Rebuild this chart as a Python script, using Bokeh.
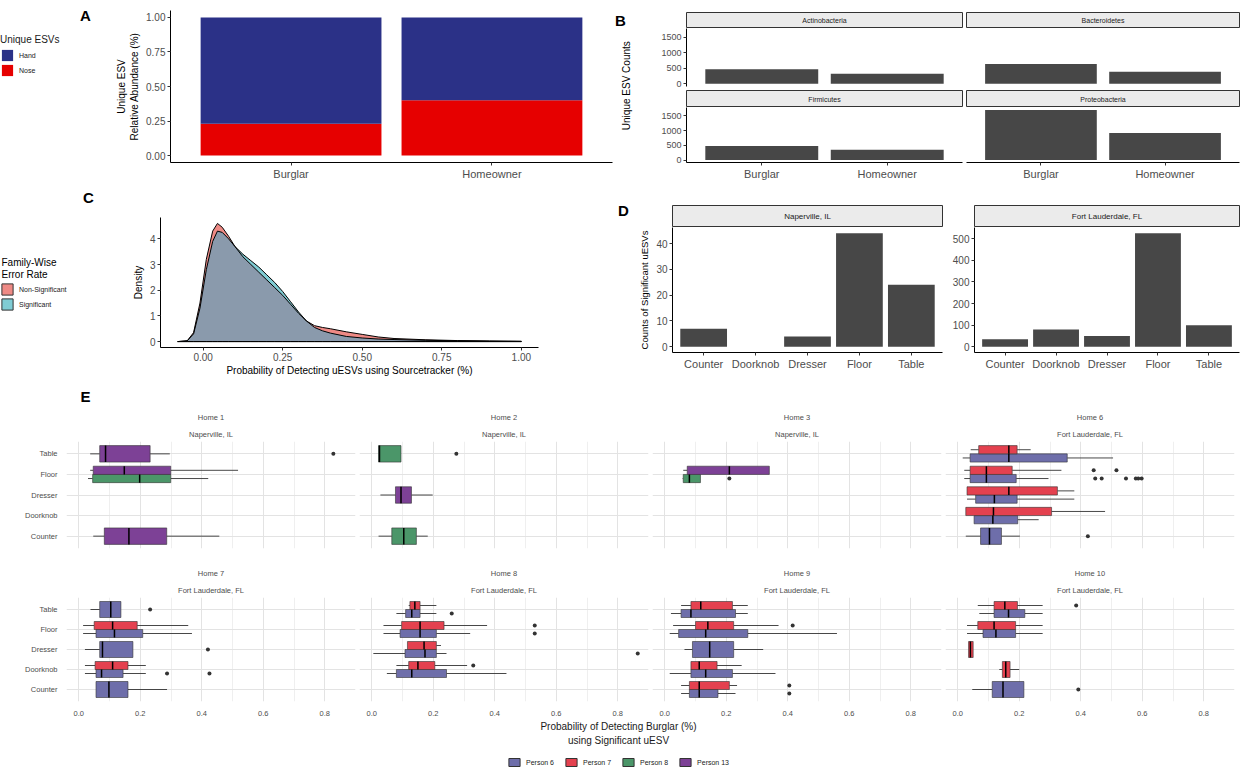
import numpy as np
from bokeh.plotting import figure
from bokeh.models import (Range1d, FixedTicker, Legend, LegendItem, Title,
                          NumeralTickFormatter)
from bokeh.layouts import row, column
from bokeh.embed import file_html
from bokeh.resources import INLINE
from bokeh.core.properties import value

FONT = "Liberation Sans"
TXT = "#4D4D4D"

# ---------------- data ----------------
# Panel A
a_groups = ["Burglar", "Homeowner"]
a_types = ["Hand", "Nose"]
a_nose = [0.23, 0.40]
a_hand = [0.77, 0.60]
a_colors = ["#2B3187", "#E60000"]
a_yticks = [0, 0.25, 0.5, 0.75, 1.0]

# Panel B
b_phyla = ["Actinobacteria", "Bacteroidetes", "Firmicutes", "Proteobacteria"]
b_groups = ["Burglar", "Homeowner"]
b_burglar = [470, 640, 480, 1700]
b_homeowner = [330, 390, 350, 920]
b_yticks = [0, 500, 1000, 1500]

# Panel C (density curves)
c_x = [-0.08, -0.05, -0.03, -0.01, 0.01, 0.03, 0.045, 0.06, 0.08, 0.10, 0.125, 0.15,
       0.175, 0.20, 0.225, 0.25, 0.275, 0.30, 0.325, 0.35, 0.375, 0.40, 0.45, 0.50,
       0.55, 0.60, 0.70, 0.80, 0.90, 1.00]
c_sig = [0.0, 0.03, 0.3, 1.3, 2.8, 3.9, 4.3, 4.25, 4.0, 3.7, 3.4, 3.15, 2.9, 2.6, 2.3,
         1.95, 1.55, 1.15, 0.8, 0.55, 0.42, 0.33, 0.2, 0.14, 0.1, 0.08, 0.05, 0.03, 0.02, 0.01]
c_nonsig = [0.0, 0.03, 0.35, 1.5, 3.2, 4.3, 4.6, 4.45, 4.1, 3.7, 3.3, 3.0, 2.7, 2.4, 2.1,
            1.8, 1.45, 1.1, 0.8, 0.62, 0.55, 0.5, 0.38, 0.28, 0.18, 0.12, 0.07, 0.04, 0.02, 0.01]
c_labels = ["Non-Significant", "Significant"]
c_legend_title = ["Family-Wise", "Error Rate"]
c_colors = ["#EE8A85", "#80CCD4"]
c_xticks = [0, 0.25, 0.5, 0.75, 1.0]
c_yticks = [0, 1, 2, 3, 4]

# Panel D
d_surfaces = ["Counter", "Doorknob", "Dresser", "Floor", "Table"]
d_cities = ["Naperville, IL", "Fort Lauderdale, FL"]
d_naperville = [7, 0, 4, 44, 24]
d_fortl = [35, 80, 50, 525, 100]
d_ticks_nap = [0, 10, 20, 30, 40]
d_ticks_fl = [0, 100, 200, 300, 400, 500]

# Panel E (box-plot summaries)
e_homes = ["Home 1", "Home 2", "Home 3", "Home 6", "Home 7", "Home 8", "Home 9", "Home 10"]
e_cities = ["Naperville, IL", "Naperville, IL", "Naperville, IL", "Fort Lauderdale, FL",
            "Fort Lauderdale, FL", "Fort Lauderdale, FL", "Fort Lauderdale, FL", "Fort Lauderdale, FL"]
e_people = ["Person 6", "Person 7", "Person 8", "Person 13"]
e_colors = ["#6E6EAA", "#E4414F", "#4B9669", "#7D4196"]
e_xticks = [0, 0.2, 0.4, 0.6, 0.8]
e_xminor = [0.1, 0.3, 0.5, 0.7]

e_home = ["Home 1"] * 4 + ["Home 2"] * 3 + ["Home 3"] * 2 + ["Home 6"] * 9 + ["Home 7"] * 7 \
    + ["Home 8"] * 8 + ["Home 9"] * 9 + ["Home 10"] * 7
e_surface = ["Table", "Floor", "Floor", "Counter",
             "Table", "Dresser", "Counter",
             "Floor", "Floor",
             "Table", "Table", "Floor", "Floor", "Dresser", "Dresser", "Doorknob", "Doorknob", "Counter",
             "Table", "Floor", "Floor", "Dresser", "Doorknob", "Doorknob", "Counter",
             "Table", "Table", "Floor", "Floor", "Dresser", "Dresser", "Doorknob", "Doorknob",
             "Table", "Table", "Floor", "Floor", "Dresser", "Doorknob", "Doorknob", "Counter", "Counter",
             "Table", "Table", "Floor", "Floor", "Dresser", "Doorknob", "Counter"]
e_person = ["Person 13", "Person 8", "Person 13", "Person 13",
            "Person 8", "Person 13", "Person 8",
            "Person 8", "Person 13",
            "Person 6", "Person 7", "Person 6", "Person 7", "Person 6", "Person 7", "Person 6", "Person 7", "Person 6",
            "Person 6", "Person 6", "Person 7", "Person 6", "Person 6", "Person 7", "Person 6",
            "Person 6", "Person 7", "Person 6", "Person 7", "Person 6", "Person 7", "Person 6", "Person 7",
            "Person 6", "Person 7", "Person 6", "Person 7", "Person 6", "Person 6", "Person 7", "Person 6", "Person 7",
            "Person 6", "Person 7", "Person 6", "Person 7", "Person 7", "Person 7", "Person 6"]
e_lower = [0.037, 0.030, 0.037, 0.047,
           0.022, 0.028, 0.022,
           0.058, 0.060,
           0.016, 0.042, 0.021, 0.021, 0.030, 0.030, 0.053, 0.026, 0.026,
           0.038, 0.014, 0.014, 0.020, 0.020, 0.020, 0.056,
           0.080, 0.120, 0.038, 0.038, 0.005, 0.116, 0.049, 0.080,
           0.020, 0.053, 0.016, 0.027, 0.064, 0.016, 0.085, 0.053, 0.053,
           0.070, 0.065, 0.030, 0.030, 0.035, 0.135, 0.047]
e_q1 = [0.068, 0.045, 0.047, 0.083,
        0.022, 0.077, 0.065,
        0.060, 0.073,
        0.040, 0.068, 0.040, 0.040, 0.058, 0.030, 0.053, 0.026, 0.074,
        0.068, 0.056, 0.050, 0.068, 0.056, 0.053, 0.056,
        0.110, 0.124, 0.092, 0.097, 0.108, 0.116, 0.080, 0.120,
        0.053, 0.085, 0.045, 0.100, 0.090, 0.085, 0.085, 0.080, 0.080,
        0.118, 0.118, 0.082, 0.065, 0.035, 0.145, 0.112]
e_median = [0.087, 0.198, 0.148, 0.163,
            0.025, 0.095, 0.104,
            0.080, 0.210,
            0.166, 0.166, 0.093, 0.093, 0.119, 0.166, 0.114, 0.116, 0.103,
            0.104, 0.116, 0.110, 0.077, 0.074, 0.110, 0.098,
            0.130, 0.140, 0.157, 0.157, 0.173, 0.170, 0.130, 0.150,
            0.085, 0.117, 0.133, 0.140, 0.146, 0.133, 0.112, 0.112, 0.112,
            0.165, 0.153, 0.124, 0.118, 0.041, 0.156, 0.147]
e_q3 = [0.232, 0.299, 0.299, 0.286,
        0.095, 0.129, 0.145,
        0.116, 0.340,
        0.356, 0.193, 0.190, 0.177, 0.193, 0.324, 0.195, 0.305, 0.142,
        0.137, 0.208, 0.190, 0.176, 0.144, 0.160, 0.160,
        0.157, 0.157, 0.210, 0.235, 0.210, 0.210, 0.243, 0.205,
        0.230, 0.220, 0.270, 0.224, 0.224, 0.220, 0.170, 0.173, 0.210,
        0.218, 0.194, 0.188, 0.188, 0.050, 0.170, 0.215]
e_upper = [0.296, 0.421, 0.518, 0.457,
           0.095, 0.198, 0.182,
           0.116, 0.340,
           0.505, 0.237, 0.295, 0.337, 0.379, 0.379, 0.263, 0.479, 0.202,
           0.137, 0.368, 0.356, 0.176, 0.218, 0.218, 0.287,
           0.210, 0.210, 0.320, 0.375, 0.243, 0.225, 0.438, 0.310,
           0.270, 0.270, 0.560, 0.370, 0.320, 0.360, 0.250, 0.230, 0.235,
           0.276, 0.276, 0.276, 0.276, 0.050, 0.200, 0.215]
e_outliers = [[0.828], [], [], [],
              [0.275], [], [],
              [0.21], [],
              [], [], [0.447, 0.468, 0.547, 0.579, 0.587, 0.598], [0.442, 0.516], [], [], [], [], [0.423],
              [0.232], [], [], [0.42], [0.287, 0.425], [], [],
              [0.26], [], [0.53], [0.53], [0.865], [], [], [0.33],
              [], [], [], [0.416], [], [], [], [0.405], [0.405],
              [], [0.385], [], [], [], [], [0.392]]


# ---------------- helpers ----------------
def mkfig(w, h, l, r, t, b, xr, yr, xaxis=True, yaxis=True):
    p = figure(width=w, height=h, x_range=xr, y_range=yr, output_backend="svg",
               toolbar_location=None, min_border_left=l, min_border_right=r,
               min_border_top=t, min_border_bottom=b,
               x_axis_location="below" if xaxis else None,
               y_axis_location="left" if yaxis else None)
    p.outline_line_color = None
    p.border_fill_color = "white"
    p.background_fill_color = "white"
    p.xgrid.visible = False
    p.ygrid.visible = False
    return p


def text_fig(w, h):
    return mkfig(w, h, 0, 0, 0, 0, Range1d(0, w), Range1d(0, h), xaxis=False, yaxis=False)


def add_text(p, txt, x, y, size="10px", bold=False, align="center", angle=0.0, color="black"):
    p.text(x=[x], y=[y], text=[txt], angle=[angle], text_align=align, text_baseline="middle",
           text_font=value(FONT), text_font_size=size,
           text_font_style="bold" if bold else "normal", text_color=color)


def proxy(p, color, line=None):
    nan = np.array([np.nan])
    return p.quad(left=nan, right=nan, top=nan, bottom=nan, fill_color=color, line_color=line)


def style_axis(ax, fs="10px", lfs="10px"):
    ax.axis_line_color = "black"
    ax.axis_line_width = 1
    ax.major_tick_line_color = "#333333"
    ax.major_tick_out = 3
    ax.major_tick_in = 0
    ax.minor_tick_line_color = None
    ax.major_label_text_font = FONT
    ax.major_label_text_font_size = fs
    ax.major_label_text_color = TXT
    ax.major_label_standoff = 2
    ax.axis_label_text_font = FONT
    ax.axis_label_text_font_size = lfs
    ax.axis_label_text_font_style = "normal"
    ax.axis_label_text_color = "black"
    ax.axis_label_standoff = 3


def strip(name, w, h, l, r, t, b, fs):
    p = mkfig(w, h, l, r, t, b, Range1d(0, 1), Range1d(0, 1), xaxis=False, yaxis=False)
    p.background_fill_color = "#EBEBEB"
    p.outline_line_color = "#333333"
    p.text(x=[0.5], y=[0.5], text=[name], text_align="center", text_baseline="middle",
           text_font=value(FONT), text_font_size=fs, text_color="#1A1A1A")
    return p


def style_legend(lg, title_fs="10px", label_fs="7px"):
    lg.title_text_font = FONT
    lg.title_text_font_size = title_fs
    lg.title_text_font_style = "normal"
    lg.title_text_color = "#1A1A1A"
    lg.label_text_font = FONT
    lg.label_text_font_size = label_fs
    lg.label_text_color = "#1A1A1A"
    lg.glyph_width = 14
    lg.glyph_height = 14
    lg.label_height = 14
    lg.spacing = 1
    lg.padding = 0
    lg.margin = 0
    lg.border_line_color = None
    lg.background_fill_alpha = 0
    lg.label_standoff = 5
    lg.title_standoff = 3


def pad_range(vals, lo=0.0):
    m = max(vals)
    span = m - lo
    return Range1d(lo - 0.05 * span, m + 0.05 * span)


# ---------------- Panel A ----------------
letA = text_fig(100, 34)
add_text(letA, "A", 85, 19, size="15px", bold=True)
legA_fig = text_fig(100, 154)
pA_proxies = [proxy(legA_fig, a_colors[0]), proxy(legA_fig, a_colors[1])]
legA = Legend(items=[LegendItem(label=t, renderers=[r]) for t, r in zip(a_types, pA_proxies)],
              location="top_left", title="Unique ESVs")
style_legend(legA)
legA_fig.add_layout(legA)

a_x = [i + 1 for i in range(len(a_groups))]
a_top = [n + h for n, h in zip(a_nose, a_hand)]
pA = mkfig(514, 188, 70, 2, 10, 26, Range1d(0.4, len(a_groups) + 0.6), pad_range(a_top))
pA.vbar(x=a_x, top=a_nose, bottom=0, width=0.9, fill_color=a_colors[1], line_color=None)
pA.vbar(x=a_x, top=a_top, bottom=a_nose, width=0.9, fill_color=a_colors[0], line_color=None)
style_axis(pA.xaxis, fs="11px")
style_axis(pA.yaxis, fs="10px", lfs="10px")
pA.xaxis.ticker = FixedTicker(ticks=a_x)
pA.xaxis.major_label_overrides = {i + 1: g for i, g in enumerate(a_groups)}
pA.yaxis.ticker = FixedTicker(ticks=a_yticks)
pA.yaxis.formatter = NumeralTickFormatter(format="0.00")
pA.yaxis.axis_label = "Unique ESV\nRelative Abundance (%)"

# ---------------- Panel B ----------------
ylabB = text_fig(20, 188)
add_text(ylabB, "Unique ESV Counts", 12, 95, angle=np.pi / 2)
add_text(ylabB, "B", 6, 176, size="15px", bold=True)

b_all = b_burglar + b_homeowner
b_cols = [[], []]
for i, ph in enumerate(b_phyla):
    rr, cc = divmod(i, 2)
    left = cc == 0
    bottom = rr == 1
    w = 330 if left else 277
    l = 52 if left else 2
    s = strip(ph, w, 28 if rr == 0 else 17, l, 2, 12 if rr == 0 else 0, 0, "7px")
    p = mkfig(w, 81 if bottom else 62, l, 2, 0, 26 if bottom else 4,
              Range1d(0.4, len(b_groups) + 0.6), pad_range(b_all), xaxis=bottom, yaxis=left)
    bx = [k + 1 for k in range(len(b_groups))]
    p.vbar(x=bx, top=[b_burglar[i], b_homeowner[i]], width=0.9, fill_color="#474747", line_color=None)
    if bottom:
        style_axis(p.xaxis, fs="11px")
        p.xaxis.ticker = FixedTicker(ticks=bx)
        p.xaxis.major_label_overrides = {k + 1: g for k, g in enumerate(b_groups)}
    if left:
        style_axis(p.yaxis, fs="9px")
        p.yaxis.ticker = FixedTicker(ticks=b_yticks)
    b_cols[cc] += [s, p]

# ---------------- Panel C ----------------
letC = text_fig(100, 94)
add_text(letC, "C", 88, 85, size="15px", bold=True)
add_text(letC, c_legend_title[0], 1, 20, align="left")
add_text(letC, c_legend_title[1], 1, 8, align="left")
legC_fig = text_fig(100, 96)
pC_proxies = [proxy(legC_fig, c, "#333333") for c in c_colors]
legC = Legend(items=[LegendItem(label=t, renderers=[r]) for t, r in zip(c_labels, pC_proxies)],
              location="top_left")
style_legend(legC)
legC_fig.add_layout(legC)

pC = mkfig(516, 190, 60, 78, 29, 28, pad_range(c_x + [-0.08], lo=-0.08), pad_range(c_nonsig + c_sig))
poly_x = c_x + c_x[::-1]
zeros = [0.0] * len(c_x)
pC.patch(poly_x, c_nonsig + zeros, fill_color=c_colors[0], line_color=None)
pC.patch(poly_x, c_sig + zeros, fill_color=c_colors[1], line_color=None)
pC.varea(x=c_x, y1=zeros, y2=list(np.minimum(c_sig, c_nonsig)), fill_color="#8A9AAC")
pC.patch(poly_x, c_nonsig + zeros, fill_alpha=0, line_color="black", line_width=1)
pC.patch(poly_x, c_sig + zeros, fill_alpha=0, line_color="black", line_width=1)
style_axis(pC.xaxis, fs="10px", lfs="10px")
style_axis(pC.yaxis, fs="10px", lfs="10px")
pC.xaxis.ticker = FixedTicker(ticks=c_xticks)
pC.xaxis.formatter = NumeralTickFormatter(format="0.00")
pC.yaxis.ticker = FixedTicker(ticks=c_yticks)
pC.xaxis.axis_label = "Probability of Detecting uESVs using Sourcetracker (%)"
pC.yaxis.axis_label = "Density"
pC.xaxis.axis_label_standoff = 1

# ---------------- Panel D ----------------
d_data = [d_naperville, d_fortl]
d_ticks = [d_ticks_nap, d_ticks_fl]
d_cols = []
for k, city in enumerate(d_cities):
    w = 330 if k == 0 else 295
    l = 56 if k == 0 else 28
    r = 4 if k == 0 else 2
    dx = [i + 1 for i in range(len(d_surfaces))]
    p = mkfig(w, 151, l, r, 0, 26, Range1d(0.4, len(d_surfaces) + 0.6), pad_range(d_data[k]))
    p.vbar(x=dx, top=d_data[k], width=0.9, fill_color="#474747", line_color=None)
    style_axis(p.xaxis, fs="11px")
    style_axis(p.yaxis, fs="10px", lfs="9.5px")
    p.xaxis.ticker = FixedTicker(ticks=dx)
    p.xaxis.major_label_overrides = {i + 1: g for i, g in enumerate(d_surfaces)}
    p.yaxis.ticker = FixedTicker(ticks=d_ticks[k])
    if k == 0:
        p.yaxis.axis_label = "Counts of Significant uESVs"
        letD = text_fig(l, 39)
        add_text(letD, "D", 7, 30, size="15px", bold=True)
        s = strip(city, w - l, 39, 0, r, 17, 0, "8px")
        d_cols.append(column(row(letD, s), p))
    else:
        s = strip(city, w, 39, l, r, 17, 0, "8px")
        d_cols.append(column(s, p))

# ---------------- Panel E ----------------
letE = text_fig(1236, 29)
add_text(letE, "E", 85, 11, size="15px", bold=True)

BW = 0.8
e_rows = [[], []]
for hi, home in enumerate(e_homes):
    rr, cc = divmod(hi, 4)
    w = 357 if cc == 0 else 293
    l = 66 if cc == 0 else 2
    h, t, b = (145, 30, 4) if rr == 0 else (166, 45, 14)
    p = figure(width=w, height=h, x_range=Range1d(-0.04, 0.90),
               y_range=Range1d(0.4, len(d_surfaces) + 0.6), output_backend="svg",
               toolbar_location=None, min_border_left=l, min_border_right=2,
               min_border_top=t, min_border_bottom=b)
    p.outline_line_color = None
    p.border_fill_color = "white"
    p.xaxis.ticker = FixedTicker(ticks=e_xticks, minor_ticks=e_xminor)
    p.xaxis.formatter = NumeralTickFormatter(format="0.0")
    p.yaxis.ticker = FixedTicker(ticks=[i + 1 for i in range(len(d_surfaces))])
    p.yaxis.major_label_overrides = {i + 1: s for i, s in enumerate(d_surfaces)}
    for ax in (p.xaxis, p.yaxis):
        ax.axis_line_color = None
        ax.major_tick_line_color = None
        ax.minor_tick_line_color = None
        ax.major_label_text_font = FONT
        ax.major_label_text_font_size = "7.5px"
        ax.major_label_text_color = TXT
        ax.major_label_standoff = 3
    p.xaxis.visible = rr == 1
    p.yaxis.visible = cc == 0
    p.xgrid.grid_line_color = "#E3E3E3"
    p.xgrid.minor_grid_line_color = "#EFEFEF"
    p.ygrid.grid_line_color = "#E3E3E3"
    for txt in (e_cities[hi], home):
        p.add_layout(Title(text=txt, align="center", text_font=FONT, text_font_size="7.5px",
                           text_color=TXT, text_font_style="normal", standoff=6), "above")

    idxs = [i for i in range(len(e_home)) if e_home[i] == home]
    ys, hs, cols, idx_order = [], [], [], []
    for i in idxs:
        same = sorted([j for j in idxs if e_surface[j] == e_surface[i]],
                      key=lambda j: e_people.index(e_person[j]))
        n = len(same)
        kk = same.index(i)
        sp = d_surfaces.index(e_surface[i]) + 1
        ys.append(sp + (kk - (n - 1) / 2) * BW / n)
        hs.append(BW / n)
        cols.append(e_colors[e_people.index(e_person[i])])
        idx_order.append(i)
    lw = [e_lower[i] for i in idx_order]
    q1 = [e_q1[i] for i in idx_order]
    md = [e_median[i] for i in idx_order]
    q3 = [e_q3[i] for i in idx_order]
    uw = [e_upper[i] for i in idx_order]
    p.segment(x0=lw, y0=ys, x1=q1, y1=ys, line_color="#333333", line_width=0.9)
    p.segment(x0=q3, y0=ys, x1=uw, y1=ys, line_color="#333333", line_width=0.9)
    p.hbar(y=ys, left=q1, right=q3, height=hs, fill_color=cols, line_color="#333333", line_width=0.6)
    p.segment(x0=md, y0=[y - hh / 2 for y, hh in zip(ys, hs)], x1=md,
              y1=[y + hh / 2 for y, hh in zip(ys, hs)], line_color="black", line_width=1.5)
    ox, oy = [], []
    for y, i in zip(ys, idx_order):
        for v in e_outliers[i]:
            ox.append(v)
            oy.append(y)
    if ox:
        p.scatter(x=ox, y=oy, size=4, fill_color="#333333", line_color=None)
    e_rows[rr].append(p)

pEb = figure(width=1236, height=52, x_range=Range1d(0, 1), y_range=Range1d(0, 1),
             output_backend="svg", toolbar_location=None, min_border_left=0,
             min_border_right=0, min_border_top=0, min_border_bottom=0,
             x_axis_location=None, y_axis_location=None)
pEb.outline_line_color = None
pEb.xgrid.visible = False
pEb.ygrid.visible = False
for txt in ("using Significant uESV", "Probability of Detecting Burglar (%)"):
    pEb.add_layout(Title(text=txt, align="center", offset=27, text_font=FONT, text_font_size="10px",
                         text_color="#1A1A1A", text_font_style="normal", standoff=1), "above")
e_proxies = [proxy(pEb, c, "#333333") for c in e_colors]
legE = Legend(items=[LegendItem(label=nm, renderers=[r]) for nm, r in zip(e_people, e_proxies)],
              orientation="horizontal", location="bottom_center")
style_legend(legE, label_fs="7px")
legE.glyph_height = 10
legE.label_height = 10
legE.spacing = 10
legE.margin = 3
pEb.add_layout(legE)

layout = column(
    row(column(letA, legA_fig), pA, ylabB, column(*b_cols[0]), column(*b_cols[1])),
    row(column(letC, legC_fig), pC, d_cols[0], d_cols[1]),
    letE,
    row(*e_rows[0]),
    row(*e_rows[1]),
    pEb,
)

open("out.html", "w").write(file_html(layout, INLINE))
